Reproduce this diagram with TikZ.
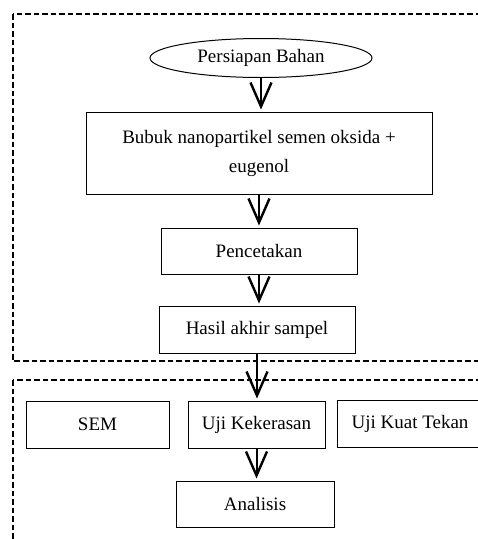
\documentclass[tikz,border=0pt]{standalone}
\usepackage{fontspec}
\setmainfont{Liberation Serif}
\usetikzlibrary{arrows.meta,shapes.geometric}
\begin{document}
\begin{tikzpicture}[x=1pt,y=-1pt,
  txt/.style={font=\fontsize{19}{29}\selectfont, align=center, inner sep=0pt},
  box/.style={txt, draw, line width=1pt, rectangle},
  oval/.style={txt, draw, line width=1pt, ellipse},
  arr/.style={line width=2pt, shorten >=2pt, -{Straight Barb[length=24pt,width=21pt,line width=2.4pt]}},
  dbox/.style={draw, line width=2.4pt, dash pattern=on 5.5pt off 3pt}]
\useasboundingbox (0,0) rectangle (478,539);
\clip (0,0) rectangle (478,539);
\draw[dbox] (13,14) rectangle (495,361);
\draw[dbox] (13,380) rectangle (495,570);
\node[oval, minimum width=222pt, minimum height=39pt] (a) at (261,58) {Persiapan Bahan};
\node[box, minimum width=346pt, minimum height=82pt] (b) at (259,153) {Bubuk nanopartikel semen oksida +\\eugenol};
\node[box, minimum width=196pt, minimum height=46pt] (c) at (259,251) {Pencetakan};
\node[box, minimum width=196pt, minimum height=47pt] (d) at (257,329.5) {Hasil akhir sampel};
\node[box, minimum width=143pt, minimum height=47pt] (e) at (97.5,424.5) {SEM};
\node[box, minimum width=137pt, minimum height=47pt] (f) at (256.5,424.5) {Uji Kekerasan};
\node[box, minimum width=146pt, minimum height=47pt] (g) at (410,424) {Uji Kuat Tekan};
\node[box, minimum width=158pt, minimum height=46pt] (h) at (255,504) {Analisis};
\draw[arr] (a.south) -- (a.south |- b.north);
\draw[arr] (b.south) -- (b.south |- c.north);
\draw[arr] (c.south) -- (c.south |- d.north);
\draw[arr] (d.south) -- (d.south |- f.north);
\draw[arr] (f.south) -- (f.south |- h.north);
\end{tikzpicture}
\end{document}
